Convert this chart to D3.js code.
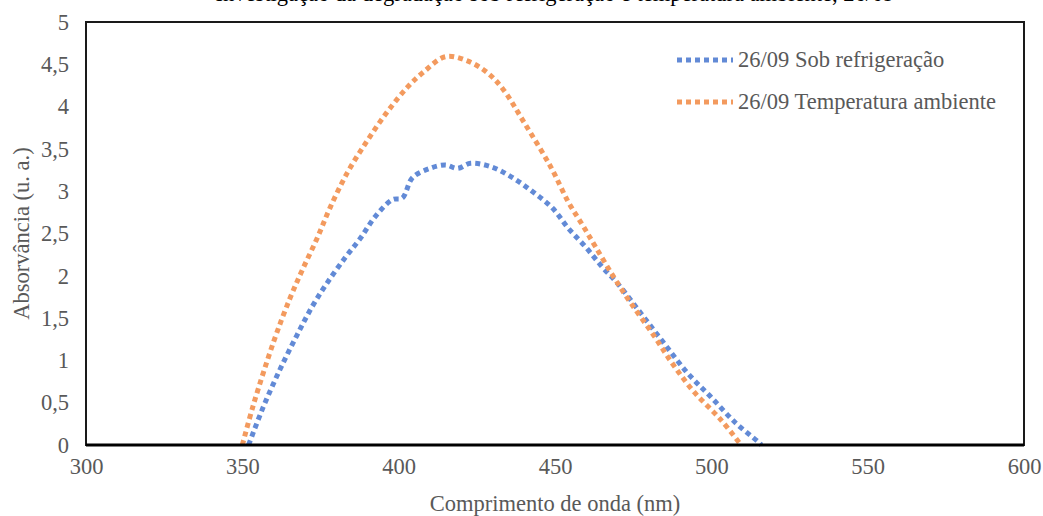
<!DOCTYPE html>
<html>
<head>
<meta charset="utf-8">
<script src="https://cdn.jsdelivr.net/npm/d3@7"></script>
<style>
  body { margin: 0; background: #fff; }
  svg text { font-family: "Liberation Serif", "Times New Roman", serif; }
</style>
</head>
<body>
<div class="canvas"></div>
<script>
// dados
const seriesNames = ["26/09 Sob refrigeração", "26/09 Temperatura ambiente"];

const refrigWl = [352, 356.7, 362, 367.5, 372.4, 377.2, 383, 387.7, 392.5, 398, 401.2, 404.4, 410, 415, 418.8, 423, 429.4, 436, 443, 449.2, 454.3, 459.8, 465.2, 470, 477.4, 484.7, 492.4, 499.8, 507.8, 514.9, 516];
const refrigAbs = [0, 0.45, 0.89, 1.3, 1.64, 1.92, 2.22, 2.44, 2.7, 2.9, 2.92, 3.16, 3.27, 3.31, 3.27, 3.33, 3.29, 3.17, 2.99, 2.8, 2.56, 2.34, 2.1, 1.91, 1.56, 1.21, 0.85, 0.57, 0.26, 0.04, 0];

const ambWl = [350, 353.5, 360, 365.3, 369.2, 374, 378, 383.6, 390, 396.4, 402.8, 408, 415, 422, 428.4, 433.5, 440, 448.6, 454.3, 458.8, 463, 468.7, 474.2, 481.5, 487.6, 494.4, 503, 509.5];
const ambAbs = [0, 0.47, 1.22, 1.74, 2.07, 2.45, 2.8, 3.22, 3.6, 3.94, 4.23, 4.41, 4.59, 4.54, 4.4, 4.2, 3.82, 3.29, 2.87, 2.6, 2.34, 1.99, 1.68, 1.3, 0.96, 0.63, 0.3, 0];

const xTicks = [300, 350, 400, 450, 500, 550, 600];
const yTicks = [0, 0.5, 1, 1.5, 2, 2.5, 3, 3.5, 4, 4.5, 5];

const colors = ["#628AD6", "#F39A5E"];

const chartSet = { width: 1043, height: 516 };
const margin = { top: 22, right: 19, bottom: 71, left: 86 };
const innerW = chartSet.width - margin.left - margin.right;
const innerH = chartSet.height - margin.top - margin.bottom;
const fontSize = 22.5;

const svg = d3
  .select(".canvas")
  .append("svg")
  .attr("width", chartSet.width)
  .attr("height", chartSet.height);

// título (cortado no topo da imagem)
svg
  .append("text")
  .attr("x", margin.left + innerW / 2)
  .attr("y", 1)
  .attr("text-anchor", "middle")
  .attr("font-size", fontSize)
  .attr("fill", "#000")
  .text("Investigação da degradação sob refrigeração e temperatura ambiente, 26/09");

const g = svg
  .append("g")
  .attr("transform", `translate(${margin.left}, ${margin.top})`);

const x = d3.scaleLinear().domain([300, 600]).range([0, innerW]);
const y = d3.scaleLinear().domain([0, 5]).range([innerH, 0]);

const fmt = (d) => String(d).replace(".", ",");

// eixos
const xAxis = g
  .append("g")
  .attr("transform", `translate(0, ${innerH})`)
  .call(d3.axisBottom(x).tickValues(xTicks).tickSize(0).tickPadding(13).tickFormat(fmt));
xAxis.select(".domain").remove();
xAxis.selectAll("text").attr("font-size", fontSize).attr("fill", "#595959");

const yAxis = g
  .append("g")
  .call(d3.axisLeft(y).tickValues(yTicks).tickSize(0).tickPadding(17).tickFormat(fmt));
yAxis.select(".domain").remove();
yAxis.selectAll("text").attr("font-size", fontSize).attr("fill", "#595959");

// linhas
const line = d3
  .line()
  .x((d) => x(d[0]))
  .y((d) => y(d[1]))
  .curve(d3.curveCatmullRom);

const series = [
  d3.zip(refrigWl, refrigAbs),
  d3.zip(ambWl, ambAbs),
];

g.selectAll("path.serie")
  .data(series)
  .enter()
  .append("path")
  .attr("class", "serie")
  .attr("d", line)
  .attr("fill", "none")
  .attr("stroke", (d, i) => colors[i])
  .attr("stroke-width", 5)
  .attr("stroke-dasharray", "5 4");

// moldura da área do gráfico
g.append("rect")
  .attr("width", innerW)
  .attr("height", innerH)
  .attr("fill", "none")
  .attr("stroke", "#1a1a1a")
  .attr("stroke-width", 2);
g.append("line")
  .attr("x1", 0)
  .attr("x2", innerW)
  .attr("y1", innerH)
  .attr("y2", innerH)
  .attr("stroke", "#000")
  .attr("stroke-width", 3);

// títulos dos eixos
svg
  .append("text")
  .attr("x", margin.left + innerW / 2)
  .attr("y", 511)
  .attr("text-anchor", "middle")
  .attr("font-size", fontSize)
  .attr("fill", "#595959")
  .text("Comprimento de onda (nm)");

svg
  .append("text")
  .attr("transform", `translate(29, ${margin.top + innerH / 2}) rotate(-90)`)
  .attr("text-anchor", "middle")
  .attr("font-size", fontSize)
  .attr("fill", "#595959")
  .text("Absorvância (u. a.)");

// legenda
const legend = svg
  .append("g")
  .selectAll("g")
  .data(seriesNames)
  .enter()
  .append("g")
  .attr("transform", (d, i) => `translate(677, ${60 + i * 42})`);

legend
  .append("line")
  .attr("x1", 0)
  .attr("x2", 56)
  .attr("stroke", (d, i) => colors[i])
  .attr("stroke-width", 5)
  .attr("stroke-dasharray", "5 4");

legend
  .append("text")
  .attr("x", 61)
  .attr("y", 7)
  .attr("font-size", fontSize)
  .attr("fill", "#595959")
  .text((d) => d);
</script>
</body>
</html>
